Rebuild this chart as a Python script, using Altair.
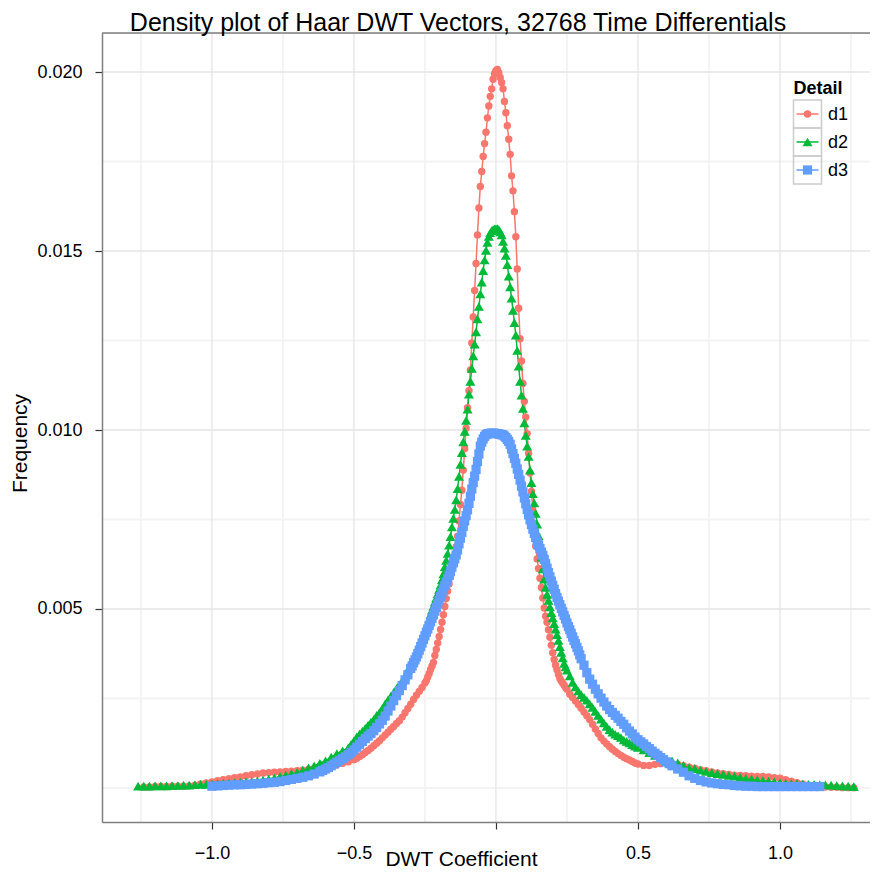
import altair as alt
import pandas as pd

TITLE = "Density plot of Haar DWT Vectors, 32768 Time Differentials"
X_TITLE = "DWT Coefficient"
Y_TITLE = "Frequency"
LEGEND_TITLE = "Detail"
SERIES = ["d1", "d2", "d3"]
COLORS = ["#F8766D", "#00BA38", "#619CFF"]
SHAPES = ["circle", "triangle-up", "square"]
POINT_SIZES = [55, 100, 85]

X_TICKS = [-1.0, -0.5, 0.0, 0.5, 1.0]
X_MINOR = [-1.25, -0.75, -0.25, 0.25, 0.75, 1.25]
Y_TICKS = [0.005, 0.010, 0.015, 0.020]
Y_MINOR = [0.0, 0.0025, 0.0075, 0.0125, 0.0175]
X_RANGE = [-1.387, 1.317]
Y_RANGE = [-0.00095, 0.02109]
Y_UNIT = 1e-5

# density values, in units of 1e-5, on grid segments (start, step, values)
D1 = [
    (-1.24, 0.02, [3, 3, 4, 4, 4, 5, 5, 5, 6, 8, 11, 14, 17, 20, 23, 26, 29, 31, 34, 37,
                   39, 42, 43, 44, 45, 46, 47, 48, 50, 52, 54, 57, 59, 62, 65, 69, 73]),
    (-0.50, 0.01, [79, 83, 88, 93, 99, 105, 111, 118, 125, 132, 140, 148, 156, 164, 172,
                   180, 188, 198, 210, 222, 234, 247, 259, 270, 281]),
    (-0.25, 0.005, [293, 300, 310, 320, 331, 341, 351, 370, 387, 405,
                    423, 443, 463, 484, 507, 529, 550, 570, 590, 609,
                    628, 651, 674, 703, 746, 792, 832, 888, 948, 1005,
                    1062, 1110, 1168, 1243, 1316, 1390, 1465, 1545, 1620, 1680,
                    1722, 1764, 1800, 1832, 1872, 1905, 1932, 1953, 1980, 1995,
                    2004, 2007, 1998, 1985, 1971, 1953, 1918, 1886, 1850, 1812,
                    1770, 1710, 1668, 1610, 1540, 1450, 1340, 1255, 1193, 1130,
                    1080, 1036, 990, 935, 880, 828, 775, 722, 675, 640,
                    613, 586, 560, 531, 503, 480, 463, 442, 421, 399,
                    378, 359, 343, 330, 317, 306, 299, 293, 287, 281,
                    276]),
    (0.26, 0.01, [262, 253, 243, 233, 223, 212, 202, 191, 178, 165, 152, 140, 131, 123,
                  115, 108, 102, 96, 91, 86, 82, 78, 74, 70, 67]),
    (0.52, 0.02, [63, 63, 66, 68, 69, 68, 66, 62, 58, 55, 51, 48, 45, 42, 40, 38, 36, 35,
                  34, 33, 32, 32, 31, 29, 27, 23, 19, 15, 11, 8, 6, 4, 3, 2, 2, 1, 1, 1]),
]

D2 = [
    (-1.26, 0.02, [5, 5, 5, 6, 6, 6, 7, 7, 8, 8, 9, 10, 10, 11, 12, 13, 14, 15, 16, 17,
                   18, 20, 22, 25, 28, 32, 36, 40, 44, 50, 56, 62, 69, 76, 86, 96, 104, 112]),
    (-0.51, 0.01, [122, 132, 143, 151, 159, 167, 176, 184, 192, 203, 211, 222, 235, 246,
                   257, 267, 278, 289, 298, 312, 330, 344, 361, 380, 399, 418]),
    (-0.25, 0.005, [436, 448, 460, 472, 485, 497, 508, 520, 531, 543,
                    555, 567, 582, 598, 618, 636, 655, 678, 702, 729,
                    753, 778, 805, 836, 870, 904, 937, 967, 996, 1027,
                    1058, 1100, 1136, 1172, 1207, 1240, 1274, 1310, 1345, 1380,
                    1413, 1445, 1475, 1502, 1524, 1541, 1551, 1557, 1560, 1562,
                    1562, 1563, 1560, 1553, 1545, 1527, 1508, 1488, 1462, 1430,
                    1400, 1368, 1334, 1300, 1265, 1222, 1178, 1136, 1097, 1060,
                    1020, 985, 955, 926, 888, 853, 822, 796, 767, 737,
                    705, 674, 645, 612, 583, 560, 541, 524, 506, 490,
                    475, 459, 444, 428, 412, 395, 379, 363, 348, 338,
                    329]),
    (0.26, 0.01, [313, 295, 282, 271, 261, 253, 245, 235, 225, 214, 203, 192, 182, 172,
                  163, 156, 150, 146, 141, 134, 130, 126, 121, 117, 113]),
    (0.52, 0.02, [106, 99, 91, 86, 81, 76, 70, 63, 57, 54, 50, 46, 43, 40, 38, 35, 33, 30,
                  27, 25, 23, 21, 19, 17, 15, 13, 12, 12, 11, 10, 10, 9, 9, 8, 7, 6, 5, 4]),
]

D3 = [
    (-1.00, 0.02, [5, 6, 7, 8, 9, 9, 10, 11, 12, 13, 15, 16, 18, 21, 24, 27, 30, 34, 39, 45]),
    (-0.61, 0.01, [49, 53, 57, 62, 67, 72, 77, 82, 87, 93, 99, 106, 114, 122, 130, 138, 145,
                   152, 160, 169, 179, 189, 201, 215, 229, 244, 258, 272, 286, 302, 316]),
    (-0.30, 0.005, [334, 341, 350, 358, 366, 375, 385, 395, 405, 415,
                    425, 435, 444, 454, 464, 474, 484, 494, 504, 514,
                    524, 534, 545, 555, 565, 575, 584, 594, 605, 617,
                    629, 640, 651, 665, 682, 698, 714, 731, 746, 761,
                    777, 795, 815, 835, 853, 871, 890, 912, 933, 955,
                    966, 975, 982, 987, 989, 990, 991, 991, 991, 991,
                    990, 990, 989, 988, 987, 986, 983, 979, 974, 968,
                    960, 947, 934, 921, 907, 891, 876, 860, 843, 827,
                    810, 794, 778, 763, 749, 736, 723, 711, 700, 689,
                    679, 669, 659, 650, 639, 627, 614, 602, 590, 578,
                    566, 555, 543, 532, 522, 512, 502, 492, 482, 472,
                    461, 451, 442, 432, 422, 412, 403, 393, 383, 372,
                    361]),
    (0.31, 0.01, [343, 322, 304, 290, 276, 263, 251, 240, 229, 219, 211, 203, 195, 186,
                  178, 168, 159, 151, 142, 135, 129, 123, 116, 110, 103, 97, 91, 85, 79,
                  73, 68]),
    (0.62, 0.02, [62, 53, 44, 34, 27, 21, 17, 14, 12, 10, 9, 7, 6, 5, 5, 4, 4, 4, 4, 4,
                  4, 4, 4, 4, 4, 4, 4]),
]

rows = []
for name, segs in zip(SERIES, [D1, D2, D3]):
    for start, step, vals in segs:
        for i, v in enumerate(vals):
            rows.append({"x": round(start + i * step, 4), "y": v * Y_UNIT, "series": name})
df = pd.DataFrame(rows)

FONT = "Liberation Sans"
XS = alt.Scale(domain=X_RANGE, nice=False, zero=False)
YS = alt.Scale(domain=Y_RANGE, nice=False, zero=False)
XAXIS = alt.Axis(values=X_TICKS, format=".1f", grid=False, domainColor="#7F7F7F",
                 domainWidth=1.5, tickColor="#333333", tickSize=7, tickWidth=1.2,
                 labelFontSize=18, labelColor="black", labelPadding=29,
                 labelBaseline="alphabetic", labelFont=FONT,
                 labelExpr="datum.value == 0 ? '' : datum.label", title=X_TITLE,
                 titleFontSize=21, titleFontWeight="normal", titleColor="black",
                 titleFont=FONT, titleX=359, titleY=43, titleBaseline="alphabetic",
                 titleAlign="center", zindex=1)
YAXIS = alt.Axis(values=Y_TICKS, format=".3f", grid=False, domainColor="#7F7F7F",
                 domainWidth=1.5, tickColor="#333333", tickSize=7, tickWidth=1.2,
                 labelFontSize=18, labelColor="black", labelPadding=13, labelFont=FONT,
                 title=Y_TITLE, titleFontSize=21, titleFontWeight="normal",
                 titleColor="black", titleFont=FONT, titleX=-76, titleY=410,
                 titleAngle=270, titleBaseline="alphabetic", titleAlign="center", zindex=1)


def X(f):
    return alt.X(f, type="quantitative", scale=XS, axis=XAXIS)


def Y(f):
    return alt.Y(f, type="quantitative", scale=YS, axis=YAXIS)


grid_x_minor = alt.Chart(pd.DataFrame({"v": X_MINOR})).mark_rule(
    color="#F3F3F3", strokeWidth=1.8).encode(x=X("v"))
grid_y_minor = alt.Chart(pd.DataFrame({"v": Y_MINOR})).mark_rule(
    color="#F3F3F3", strokeWidth=1.8).encode(y=Y("v"))
grid_x_major = alt.Chart(pd.DataFrame({"v": X_TICKS})).mark_rule(
    color="#E5E5E5", strokeWidth=1.3).encode(x=X("v"))
grid_y_major = alt.Chart(pd.DataFrame({"v": Y_TICKS})).mark_rule(
    color="#E5E5E5", strokeWidth=1.3).encode(y=Y("v"))
top_border = alt.Chart(pd.DataFrame({"v": [Y_RANGE[1]]})).mark_rule(
    color="#7F7F7F", strokeWidth=1.5).encode(y=Y("v"))

lines = alt.Chart(df).mark_line(strokeWidth=1.5).encode(
    x=X("x"), y=Y("y"),
    color=alt.Color("series:N", scale=alt.Scale(domain=SERIES, range=COLORS), legend=None),
    detail="series:N",
)

point_layers = []
for s, c, sh, sz in zip(SERIES, COLORS, SHAPES, POINT_SIZES):
    point_layers.append(
        alt.Chart(df).transform_filter(alt.datum.series == s).mark_point(
            filled=True, shape=sh, size=sz, color=c, opacity=1).encode(x=X("x"), y=Y("y"))
    )

# chart title (drawn as text above the panel)
title_layer = alt.Chart(pd.DataFrame({"t": [TITLE]})).mark_text(
    font=FONT, fontSize=25, color="black", align="center", baseline="alphabetic").encode(
    text="t:N", x=alt.value(356), y=alt.value(-2.5))

# legend "Detail" inside the panel, top right (keys with line + marker, grey key boxes)
LEG_KEY_X = 705.5
LEG_ROW_Y = [81, 109, 137]
legend_layers = [
    alt.Chart(pd.DataFrame({"t": [LEGEND_TITLE]})).mark_text(
        font=FONT, fontSize=18, fontWeight="bold", color="black", align="left",
        baseline="alphabetic").encode(text="t:N", x=alt.value(LEG_KEY_X - 14), y=alt.value(60.5))
]
for s, c, sh, sz, ry in zip(SERIES, COLORS, SHAPES, POINT_SIZES, LEG_ROW_Y):
    one = pd.DataFrame({"series": [s]})
    legend_layers += [
        alt.Chart(one).mark_point(shape="square", size=784, filled=False, color="#CCCCCC",
                                  strokeWidth=1.5, opacity=1).encode(
            x=alt.value(LEG_KEY_X), y=alt.value(ry)),
        alt.Chart(one).mark_rule(color=c, strokeWidth=1.5).encode(
            x=alt.value(LEG_KEY_X - 11), x2=alt.value(LEG_KEY_X + 11), y=alt.value(ry)),
        alt.Chart(one).mark_point(shape=sh, size=sz, filled=True, color=c, opacity=1).encode(
            x=alt.value(LEG_KEY_X), y=alt.value(ry)),
        alt.Chart(one).mark_text(font=FONT, fontSize=18, color="black", align="left",
                                 baseline="middle").encode(
            text="series:N", x=alt.value(LEG_KEY_X + 20.5), y=alt.value(ry + 1)),
    ]

chart = alt.layer(
    grid_x_minor, grid_y_minor, grid_x_major, grid_y_major,
    lines, *point_layers, top_border, title_layer, *legend_layers,
).properties(
    width=768, height=789,
    autosize=alt.AutoSizeParams(type="none"),
    padding={"left": 94, "top": 25, "right": 0, "bottom": 47},
).configure_view(stroke=None).configure(font=FONT, background="white")

chart.save("out.html", embed_options={"renderer": "svg", "actions": False})
